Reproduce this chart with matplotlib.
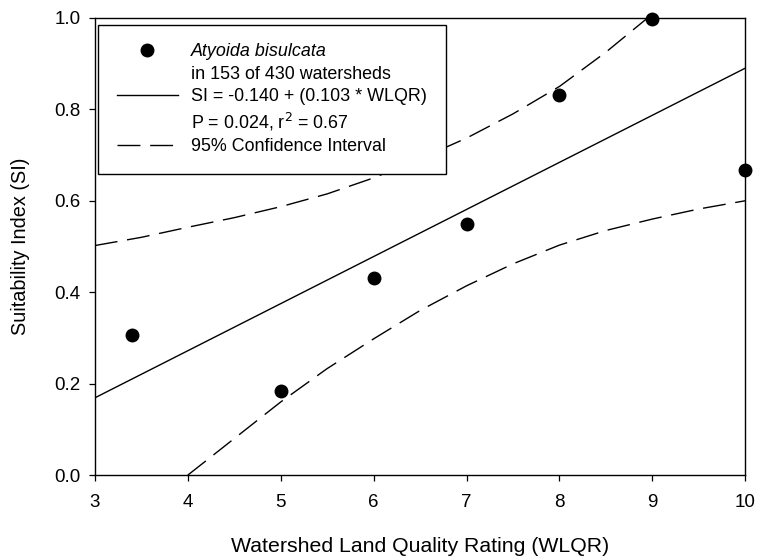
import matplotlib
matplotlib.use("Agg")
import matplotlib.pyplot as plt
from matplotlib.lines import Line2D

plt.rcParams['font.family'] = ['Liberation Sans', 'DejaVu Sans']

# observed suitability index per WLQR class
wlqr = [3.4, 5, 6, 7, 8, 9, 10]
si = [0.307, 0.185, 0.432, 0.550, 0.832, 0.997, 0.668]

# regression line (coefficients from legend)
intercept = -0.140
slope = 0.103
fit_x = [3, 10]

# 95% confidence bands
ci_up_x = [3, 3.5, 4, 4.5, 5, 5.5, 6, 6.5, 7, 7.5, 8, 8.5, 8.95]
ci_up_y = [0.502, 0.520, 0.542, 0.563, 0.587, 0.615, 0.650, 0.692, 0.737, 0.790, 0.850, 0.925, 1.0]
ci_lo_x = [4, 4.5, 5, 5.5, 6, 6.5, 7, 7.5, 8, 8.5, 9, 9.5, 10]
ci_lo_y = [0.0, 0.080, 0.160, 0.233, 0.298, 0.360, 0.414, 0.462, 0.503, 0.535, 0.560, 0.582, 0.600]

fig = plt.figure(figsize=(7.59, 5.57), dpi=100)
ax = fig.add_axes([0.125, 0.147, 0.857, 0.821])

dash = (16.5, 7)
fit_y = [intercept + slope * x for x in fit_x]
ax.plot(fit_x, fit_y, color='black', lw=1.0)
ax.plot(ci_up_x, ci_up_y, color='black', lw=1.0, dashes=dash)
ax.plot(ci_lo_x, ci_lo_y, color='black', lw=1.0, dashes=dash)
ax.plot(wlqr, si, 'o', color='black', ms=9, clip_on=False, zorder=5)

ax.set_xlim(3, 10)
ax.set_ylim(0, 1.0)
ax.set_xticks(range(3, 11))
ax.set_yticks([0, 0.2, 0.4, 0.6, 0.8, 1.0])
ax.set_yticklabels([f"{v:.1f}" for v in [0, 0.2, 0.4, 0.6, 0.8, 1.0]])
ax.tick_params(direction='out', length=4.5, width=0.9, labelsize=13.5,
               colors='black')
ax.tick_params(axis='x', pad=9)
ax.tick_params(axis='y', pad=6)
for s in ax.spines.values():
    s.set_linewidth(1.0)

ax.set_xlabel('Watershed Land Quality Rating (WLQR)', fontsize=15.3, labelpad=19)
ax.set_ylabel('Suitability Index (SI)', fontsize=14.3, labelpad=17)

blank = Line2D([], [], linestyle='none')
handles = [
    Line2D([], [], marker='o', color='black', ms=9, linestyle='none'),
    blank,
    Line2D([], [], color='black', lw=1.0),
    blank,
    Line2D([], [], color='black', lw=1.0, dashes=dash),
]
labels = [
    'Atyoida bisulcata',
    'in 153 of 430 watersheds',
    'SI = -0.140 + (0.103 * WLQR)',
    'P = 0.024, r$^2$ = 0.67',
    '95% Confidence Interval',
]
leg = ax.legend(handles, labels, loc='upper left', bbox_to_anchor=(0.005, 0.985),
                borderaxespad=0, fontsize=12.9, frameon=True, fancybox=False,
                edgecolor='black', framealpha=1, handlelength=3.4,
                handletextpad=0.75, labelspacing=0.3, borderpad=1.05)
leg.get_frame().set_linewidth(1.0)
leg.get_texts()[0].set_fontstyle('italic')

fig.savefig('out.png', dpi=100)
